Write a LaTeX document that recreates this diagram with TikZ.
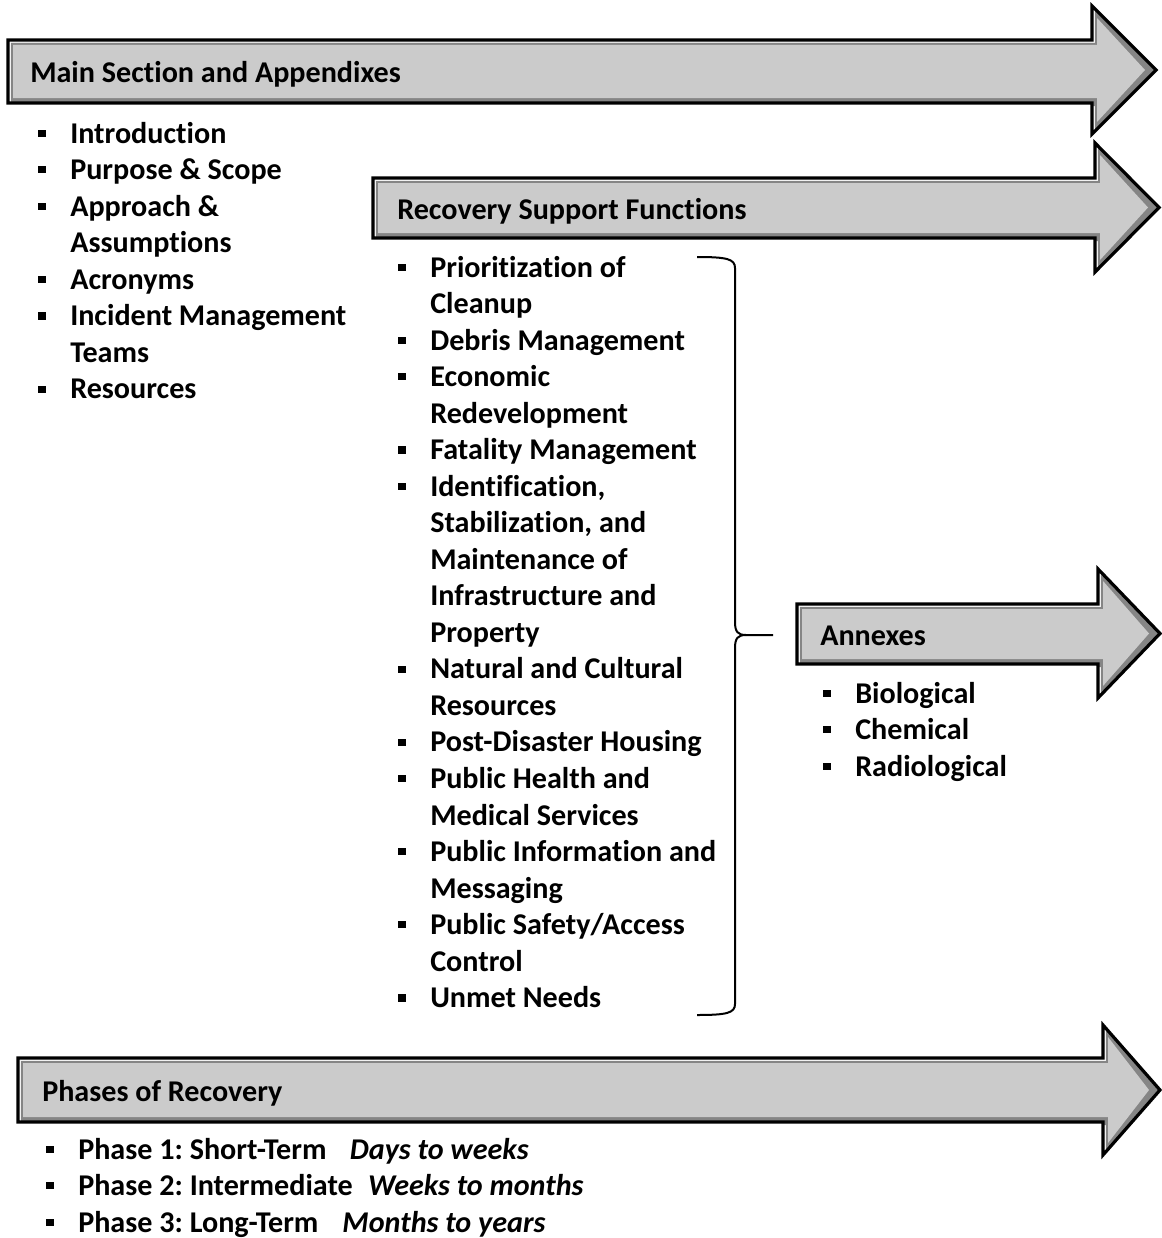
\documentclass[tikz,border=0pt]{standalone}
\usepackage{fontspec}
\setmainfont{Carlito}[Ligatures=NoCommon]
\usetikzlibrary{positioning}

\definecolor{arrowmid}{HTML}{CBCBCB}
\definecolor{arrowlight}{HTML}{F2F2F2}
\definecolor{arrowdark}{HTML}{858585}

% square bullet, in a box as wide as the bullet column
\newcommand{\blt}{\makebox[24pt][l]{\rule[4.6pt]{6pt}{5.3pt}}}

% #1 body left, #2 body top, #3 body bottom, #4 head x, #5 head top, #6 head bottom, #7 tip x
\newcommand{\bigarrow}[7]{%
  \begin{scope}
    \path[clip] (#1,#2) -- (#4,#2) -- (#4,#5) -- (#7,{(#5+#6)/2}) -- (#4,#6) -- (#4,#3) -- (#1,#3) -- cycle;
    \fill[arrowlight] (#1,#2) -- (#4,#2) -- (#4,#5) -- (#7,{(#5+#6)/2}) -- (#4,#6) -- (#4,#3) -- (#1,#3) -- cycle;
    \fill[arrowdark,shift={(3,3)}] (#1,#2) -- (#4,#2) -- (#4,#5) -- (#7,{(#5+#6)/2}) -- (#4,#6) -- (#4,#3) -- (#1,#3) -- cycle;
    \fill[arrowmid] ({#1+5},{#2+5}) -- ({#4+5},{#2+5}) -- ({#4+5},{#5+12}) -- ({#7-11},{(#5+#6)/2})
      -- ({#4+5},{#6-12}) -- ({#4+5},{#3-5}) -- ({#1+5},{#3-5}) -- cycle;
  \end{scope}
  \draw[arrowline] (#1,#2) -- (#4,#2) -- (#4,#5) -- (#7,{(#5+#6)/2}) -- (#4,#6) -- (#4,#3) -- (#1,#3) -- cycle;
}

\begin{document}
\begin{tikzpicture}[x=0.75pt,y=-0.75pt,
    arrowline/.style={draw=black,line width=2.4pt,miter limit=20},
    title/.style={anchor=base west,inner sep=0pt,font=\fontsize{22.6}{27.4}\selectfont\bfseries\frenchspacing},
    itemlist/.style={anchor=base west,inner sep=0pt,font=\fontsize{22.6}{27.4}\selectfont\bfseries\frenchspacing},
    bracket/.style={draw=black,line width=1.5pt}]
  \useasboundingbox (0,0) rectangle (1161,1238);

  % arrows
  \bigarrow{8}{40}{103}{1092}{6}{134}{1156}
  \bigarrow{373}{178}{238}{1095}{143}{272}{1159}
  \bigarrow{797}{604}{664}{1098}{569}{698}{1160}
  \bigarrow{18}{1058}{1122}{1103}{1025}{1155}{1160}

  % titles
  \node[title] (mainsec) at (30,83) {Main Section and Appendixes};
  \node[title] (rsf) at (397,219) {Recovery Support Functions};
  \node[title] (annexes) at (820,645) {Annexes};
  \node[title] (phases) at (42,1101) {Phases of Recovery};

  % lists
  \node[itemlist] (mainlist) at (38,143) {\begin{tabular}[t]{@{}l@{}l@{}}
    \blt & Introduction\\
    \blt & Purpose \& Scope\\
    \blt & Approach \&\\
         & Assumptions\\
    \blt & Acronyms\\
    \blt & Incident Management\\
         & Teams\\
    \blt & Resources
  \end{tabular}};
  \node[itemlist] (rsflist) at (398,277) {\begin{tabular}[t]{@{}l@{}l@{}}
    \blt & Prioritization of\\
         & Cleanup\\
    \blt & Debris Management\\
    \blt & Economic\\
         & Redevelopment\\
    \blt & Fatality Management\\
    \blt & Identification,\\
         & Stabilization, and\\
         & Maintenance of\\
         & Infrastructure and\\
         & Property\\
    \blt & Natural and Cultural\\
         & Resources\\
    \blt & Post-Disaster Housing\\
    \blt & Public Health and\\
         & Medical Services\\
    \blt & Public Information and\\
         & Messaging\\
    \blt & Public Safety/Access\\
         & Control\\
    \blt & Unmet Needs
  \end{tabular}};
  \node[itemlist] (annexlist) at (823,703) {\begin{tabular}[t]{@{}l@{}l@{}}
    \blt & Biological\\
    \blt & Chemical\\
    \blt & Radiological
  \end{tabular}};
  \node[itemlist] (phaselist) at (46,1159) {\begin{tabular}[t]{@{}l@{}l@{}}
    \blt & Phase 1: Short-Term\hspace{17.5pt}\textit{Days to weeks}\\
    \blt & Phase 2: Intermediate\hspace{11.5pt}\textit{Weeks to months}\\
    \blt & Phase 3: Long-Term\hspace{18pt}\textit{Months to years}
  \end{tabular}};

  % brace from the support functions to the annexes
  \draw[bracket] (697,257) .. controls (727,257) and (735,259) .. (735,268) -- (735,622)
    .. controls (735,632) and (738,635) .. (746,635) -- (773,635);
  \draw[bracket] (746,635) .. controls (738,635) and (735,638) .. (735,648) -- (735,1004)
    .. controls (735,1013) and (727,1015) .. (697,1015);
\end{tikzpicture}
\end{document}
